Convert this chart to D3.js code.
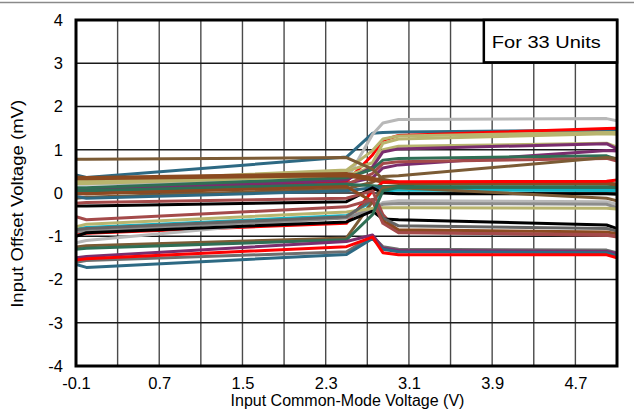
<!DOCTYPE html>
<html>
<head>
<meta charset="utf-8">
<script src="https://cdn.jsdelivr.net/npm/d3@7"></script>
<style>
  html, body { margin: 0; padding: 0; background: #fff; }
  svg { display: block; font-family: "Liberation Sans", Arial, sans-serif; }
</style>
</head>
<body>
<svg id="chart" width="634" height="410"></svg>
<script>
// Common-mode input voltage sample points (V)
const cmVoltages = [-0.1, 0.0, 2.5, 2.75, 2.85, 3.0, 5.0, 5.1];

// Offset voltage (mV) for each of the 33 units at the sample points
const unitOffsets = [
  [0.42, 0.36, 0.83, 1.38, 1.40, 1.41, 1.45, 1.46],
  [0.20, 0.20, 0.30, 1.35, 1.62, 1.70, 1.72, 1.67],
  [0.02, 0.03, 0.26, 0.88, 1.22, 1.33, 1.49, 1.50],
  [0.30, 0.27, 0.53, 0.98, 1.25, 1.32, 1.40, 1.40],
  [0.26, 0.24, 0.50, 0.70, 1.15, 1.25, 1.37, 1.36],
  [0.22, 0.22, 0.40, 0.60, 1.00, 1.08, 1.15, 1.06],
  [0.08, 0.08, 0.30, 0.60, 0.95, 1.02, 1.14, 1.02],
  [0.06, 0.05, 0.22, 0.35, 0.58, 0.65, 0.98, 0.97],
  [0.12, 0.12, 0.35, 0.55, 0.76, 0.80, 0.86, 0.78],
  [-0.02, -0.02, 0.20, 0.45, 0.68, 0.72, 0.80, 0.74],
  [-0.12, -0.10, 0.10, 0.25, 0.38, 0.40, 0.82, 0.80],
  [0.78, 0.78, 0.82, 0.55, 0.32, 0.25, 0.22, 0.20],
  [0.37, 0.36, 0.45, 0.35, 0.28, 0.24, 0.24, 0.20],
  [0.33, 0.33, 0.40, 0.30, 0.25, 0.22, 0.21, 0.18],
  [-0.97, -0.93, -0.70, 0.05, 0.25, 0.26, 0.27, 0.30],
  [0.05, 0.05, 0.20, 0.17, 0.15, 0.15, 0.14, 0.12],
  [-0.08, -0.12, 0.05, 0.12, 0.11, 0.10, 0.10, 0.08],
  [-0.83, -0.80, -0.52, -0.20, 0.04, 0.07, 0.06, 0.06],
  [-0.30, -0.30, -0.20, 0.12, 0.00, -0.02, -0.02, -0.03],
  [-1.25, -1.22, -1.04, -0.20, 0.12, 0.12, -0.12, -0.18],
  [-1.15, -1.10, -0.55, -0.38, -0.22, -0.18, -0.20, -0.26],
  [-0.90, -0.88, -0.58, -0.36, -0.26, -0.24, -0.26, -0.34],
  [-0.78, -0.72, -0.44, -0.36, -0.34, -0.34, -0.35, -0.37],
  [-0.24, -0.22, -0.12, 0.05, -0.50, -0.90, -0.98, -1.02],
  [-1.00, -0.92, -0.67, -0.42, -0.60, -0.62, -0.74, -0.82],
  [-0.85, -0.82, -0.55, -0.15, -0.58, -0.76, -0.82, -0.88],
  [-0.02, -0.02, 0.15, -0.20, -0.65, -0.85, -0.90, -0.94],
  [-0.55, -0.62, -0.32, -0.15, -0.70, -0.92, -0.96, -1.00],
  [-1.30, -1.28, -1.08, -0.50, 0.05, 0.13, 0.14, 0.12],
  [-1.60, -1.56, -1.36, -1.00, -1.24, -1.30, -1.32, -1.38],
  [-1.50, -1.47, -1.12, -0.97, -1.28, -1.33, -1.35, -1.40],
  [-1.65, -1.72, -1.42, -1.05, -1.30, -1.36, -1.38, -1.46],
  [-1.55, -1.52, -1.24, -1.02, -1.38, -1.43, -1.43, -1.50]
];

// Trace colour per unit
const unitColors = [
  "#2d6983", "#b8b8b8", "#ff0000", "#b8b46e", "#b8b46e", "#b8b46e", "#7a2d6e",
  "#7a2d6e", "#2f6f55", "#a44a4a", "#7b5b35", "#7b5b35", "#8b4a20", "#8b4a20",
  "#ff0000", "#2f6f55", "#2d6983", "#12b5c6", "#000000", "#7b5b35", "#b8b8b8",
  "#8c8c8c", "#b8b46e", "#a44a4a", "#000000", "#646464", "#8b4a20", "#a44a4a",
  "#2f6f55", "#6e6e6e", "#7a2d6e", "#2d6983", "#ff0000"
];

const xTicks = [-0.1, 0.7, 1.5, 2.3, 3.1, 3.9, 4.7];
const xGrid = d3.range(0, 14).map(i => +(-0.1 + i * 0.4).toFixed(1));
const yTicks = [-4, -3, -2, -1, 0, 1, 2, 3, 4];

const FONT = "'Liberation Sans', Arial, sans-serif";
const svg = d3.select("#chart");
const x = d3.scaleLinear().domain([-0.1, 5.1]).range([76, 617]);
const y = d3.scaleLinear().domain([-4, 4]).range([366, 20]);

// thin rule across the top of the figure
svg.append("line").attr("x1", 0).attr("x2", 634).attr("y1", 2.5).attr("y2", 2.5)
  .attr("stroke", "#8a8a8a").attr("stroke-width", 1.5);

// plot background
svg.append("rect").attr("x", x(-0.1)).attr("y", y(4))
  .attr("width", x(5.1) - x(-0.1)).attr("height", y(-4) - y(4)).attr("fill", "#fff");

// grid
const grid = svg.append("g");
grid.selectAll("line.v").data(xGrid).join("line")
  .attr("x1", d => x(d)).attr("x2", d => x(d)).attr("y1", y(4)).attr("y2", y(-4))
  .attr("stroke", "#4a4a4a").attr("stroke-width", 1.4);
grid.selectAll("line.h").data(yTicks).join("line")
  .attr("x1", x(-0.1)).attr("x2", x(5.1)).attr("y1", d => y(d)).attr("y2", d => y(d))
  .attr("stroke", "#1a1a1a").attr("stroke-width", 1.4);

// unit traces
const line = d3.line().x((d, i) => x(cmVoltages[i])).y(d => y(d));
svg.append("clipPath").attr("id", "plot-clip").append("rect")
  .attr("x", x(-0.1)).attr("y", y(4)).attr("width", x(5.1) - x(-0.1)).attr("height", y(-4) - y(4));
svg.append("g").attr("clip-path", "url(#plot-clip)")
  .selectAll("path").data(unitOffsets).join("path")
  .attr("d", d => line(d))
  .attr("fill", "none")
  .attr("stroke", (d, i) => unitColors[i])
  .attr("stroke-width", 3)
  .attr("stroke-linejoin", "round");

// frame
svg.append("rect").attr("x", x(-0.1)).attr("y", y(4))
  .attr("width", x(5.1) - x(-0.1)).attr("height", y(-4) - y(4))
  .attr("fill", "none").attr("stroke", "#000").attr("stroke-width", 3);

// legend box
const lg = svg.append("g");
lg.append("rect").attr("x", x(3.82)).attr("y", y(4))
  .attr("width", x(5.1) - x(3.82)).attr("height", y(3.02) - y(4))
  .attr("fill", "#fff").attr("stroke", "#000").attr("stroke-width", 2.5);
lg.append("text").attr("x", x(3.82) + 8).attr("y", y(3.5) + 6)
  .attr("font-size", 16.5).attr("fill", "#000")
  .attr("textLength", 109).attr("lengthAdjust", "spacingAndGlyphs")
  .text("For 33 Units");

// axes
const xAxis = d3.axisBottom(x).tickValues(xTicks).tickSize(0).tickPadding(8)
  .tickFormat(d => d.toFixed(1));
svg.append("g").attr("transform", `translate(0,${y(-4)})`).call(xAxis)
  .call(g => g.select(".domain").remove())
  .selectAll("text").attr("font-size", 16.5).attr("fill", "#000")
  .attr("font-family", FONT).attr("dy", "0.9em");

const yAxis = d3.axisLeft(y).tickValues(yTicks).tickSize(0).tickPadding(13)
  .tickFormat(d => String(d));
svg.append("g").attr("transform", `translate(${x(-0.1)},0)`).call(yAxis)
  .call(g => g.select(".domain").remove())
  .selectAll("text").attr("font-size", 16.5).attr("fill", "#000")
  .attr("font-family", FONT);

// axis titles
svg.append("text").attr("transform", `translate(23,${y(-0.25)}) rotate(-90)`)
  .attr("text-anchor", "middle").attr("font-size", 16).attr("fill", "#000")
  .attr("textLength", 208).attr("lengthAdjust", "spacingAndGlyphs")
  .text("Input Offset Voltage (mV)");
svg.append("text").attr("x", (x(-0.1) + x(5.1)) / 2 + 1).attr("y", 406)
  .attr("text-anchor", "middle").attr("font-size", 16).attr("fill", "#000")
  .text("Input Common-Mode Voltage (V)");
</script>
</body>
</html>
